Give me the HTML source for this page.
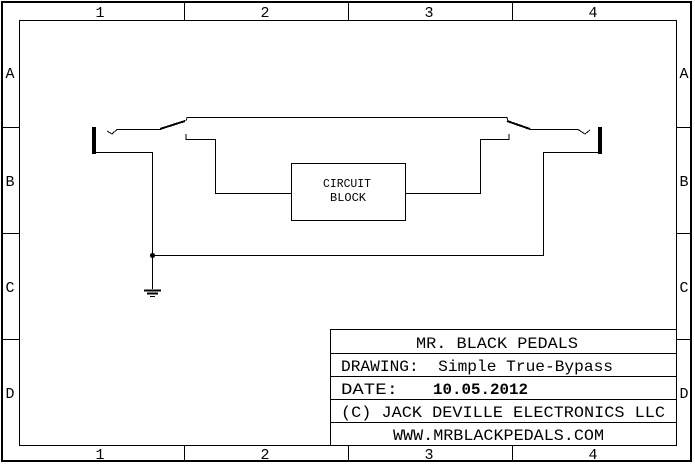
<!DOCTYPE html>
<html><head><meta charset="utf-8"><style>
html,body{margin:0;padding:0;background:#fff;}
svg{display:block;}
text{font-family:"Liberation Mono",monospace;fill:#000;white-space:pre;}
</style></head><body>
<svg width="695" height="465" viewBox="0 0 695 465" xmlns="http://www.w3.org/2000/svg" shape-rendering="crispEdges">
<rect x="2" y="2" width="689" height="459" fill="none" stroke="#000" stroke-width="2"/>
<rect x="19.5" y="20.5" width="657" height="425" fill="none" stroke="#000" stroke-width="1"/>
<g stroke="#000" stroke-width="1">
<line x1="184.5" y1="2" x2="184.5" y2="20"/><line x1="348.5" y1="2" x2="348.5" y2="20"/><line x1="512.5" y1="2" x2="512.5" y2="20"/>
<line x1="184.5" y1="446" x2="184.5" y2="461"/><line x1="348.5" y1="446" x2="348.5" y2="461"/><line x1="512.5" y1="446" x2="512.5" y2="461"/>
<line x1="2" y1="127.5" x2="19" y2="127.5"/><line x1="2" y1="233.5" x2="19" y2="233.5"/><line x1="2" y1="339.5" x2="19" y2="339.5"/>
<line x1="677" y1="127.5" x2="691" y2="127.5"/><line x1="677" y1="233.5" x2="691" y2="233.5"/><line x1="677" y1="339.5" x2="691" y2="339.5"/>
</g>
<g font-size="15" text-anchor="middle">
<text x="100" y="17">1</text><text x="265" y="17">2</text><text x="429" y="17">3</text><text x="593" y="17">4</text>
<text x="100" y="459">1</text><text x="265" y="459">2</text><text x="429" y="459">3</text><text x="593" y="459">4</text>
<text x="10" y="78">A</text><text x="10" y="186">B</text><text x="10" y="292">C</text><text x="10" y="398">D</text>
<text x="684" y="78">A</text><text x="684" y="186">B</text><text x="684" y="292">C</text><text x="684" y="398">D</text>
</g>
<g stroke="#000" stroke-width="1" fill="none">
<rect x="92" y="127" width="4" height="27" fill="#000" stroke="none"/>
<rect x="598" y="127" width="4" height="27" fill="#000" stroke="none"/>
<polyline points="96,152.5 152.5,152.5 152.5,289"/>
<polyline points="598,152.5 543.5,152.5 543.5,255.5 152,255.5"/>
<polyline points="107,131 112,134 117,129.5 160,129.5"/>
<line x1="160" y1="129" x2="185" y2="121" stroke-width="2"/>
<polyline points="186,121 187,117.5 507,117.5 508,121"/>
<polyline points="186,134 186,139.5 215.5,139.5 215.5,193.5 291,193.5"/>
<rect x="291.5" y="163.5" width="114" height="57"/>
<polyline points="405,193.5 480.5,193.5 480.5,139.5 509,139.5 509,134"/>
<line x1="507" y1="121" x2="530" y2="129" stroke-width="2"/>
<polyline points="530,129.5 578,129.5 585,134 590,130"/>
<line x1="144" y1="290.5" x2="161" y2="290.5" stroke-width="2"/>
<line x1="147" y1="293.5" x2="158" y2="293.5" stroke-width="2"/>
<line x1="150" y1="296.5" x2="155" y2="296.5"/>
</g>
<circle cx="152.5" cy="255.5" r="2.5" fill="#000"/>
<text x="323" y="187" font-size="12" textLength="48" lengthAdjust="spacingAndGlyphs">CIRCUIT</text>
<text x="330" y="201" font-size="12" textLength="36" lengthAdjust="spacingAndGlyphs">BLOCK</text>
<g stroke="#000" stroke-width="1" fill="none">
<rect x="330.5" y="329.5" width="346" height="116"/>
<line x1="330" y1="353.5" x2="677" y2="353.5"/>
<line x1="330" y1="376.5" x2="677" y2="376.5"/>
<line x1="330" y1="399.5" x2="677" y2="399.5"/>
<line x1="330" y1="422.5" x2="677" y2="422.5"/>
</g>
<g font-size="16" lengthAdjust="spacingAndGlyphs">
<text x="416" y="348" textLength="162" lengthAdjust="spacingAndGlyphs">MR. BLACK PEDALS</text>
<text x="341" y="371" textLength="272" lengthAdjust="spacingAndGlyphs">DRAWING:  Simple True-Bypass</text>
<text x="341" y="394" textLength="57" lengthAdjust="spacingAndGlyphs">DATE:</text>
<text x="433" y="394" textLength="95" lengthAdjust="spacingAndGlyphs" font-weight="bold">10.05.2012</text>
<text x="341" y="417" textLength="324" lengthAdjust="spacingAndGlyphs">(C) JACK DEVILLE ELECTRONICS LLC</text>
<text x="393" y="440" textLength="211" lengthAdjust="spacingAndGlyphs">WWW.MRBLACKPEDALS.COM</text>
</g>
</svg>
</body></html>
